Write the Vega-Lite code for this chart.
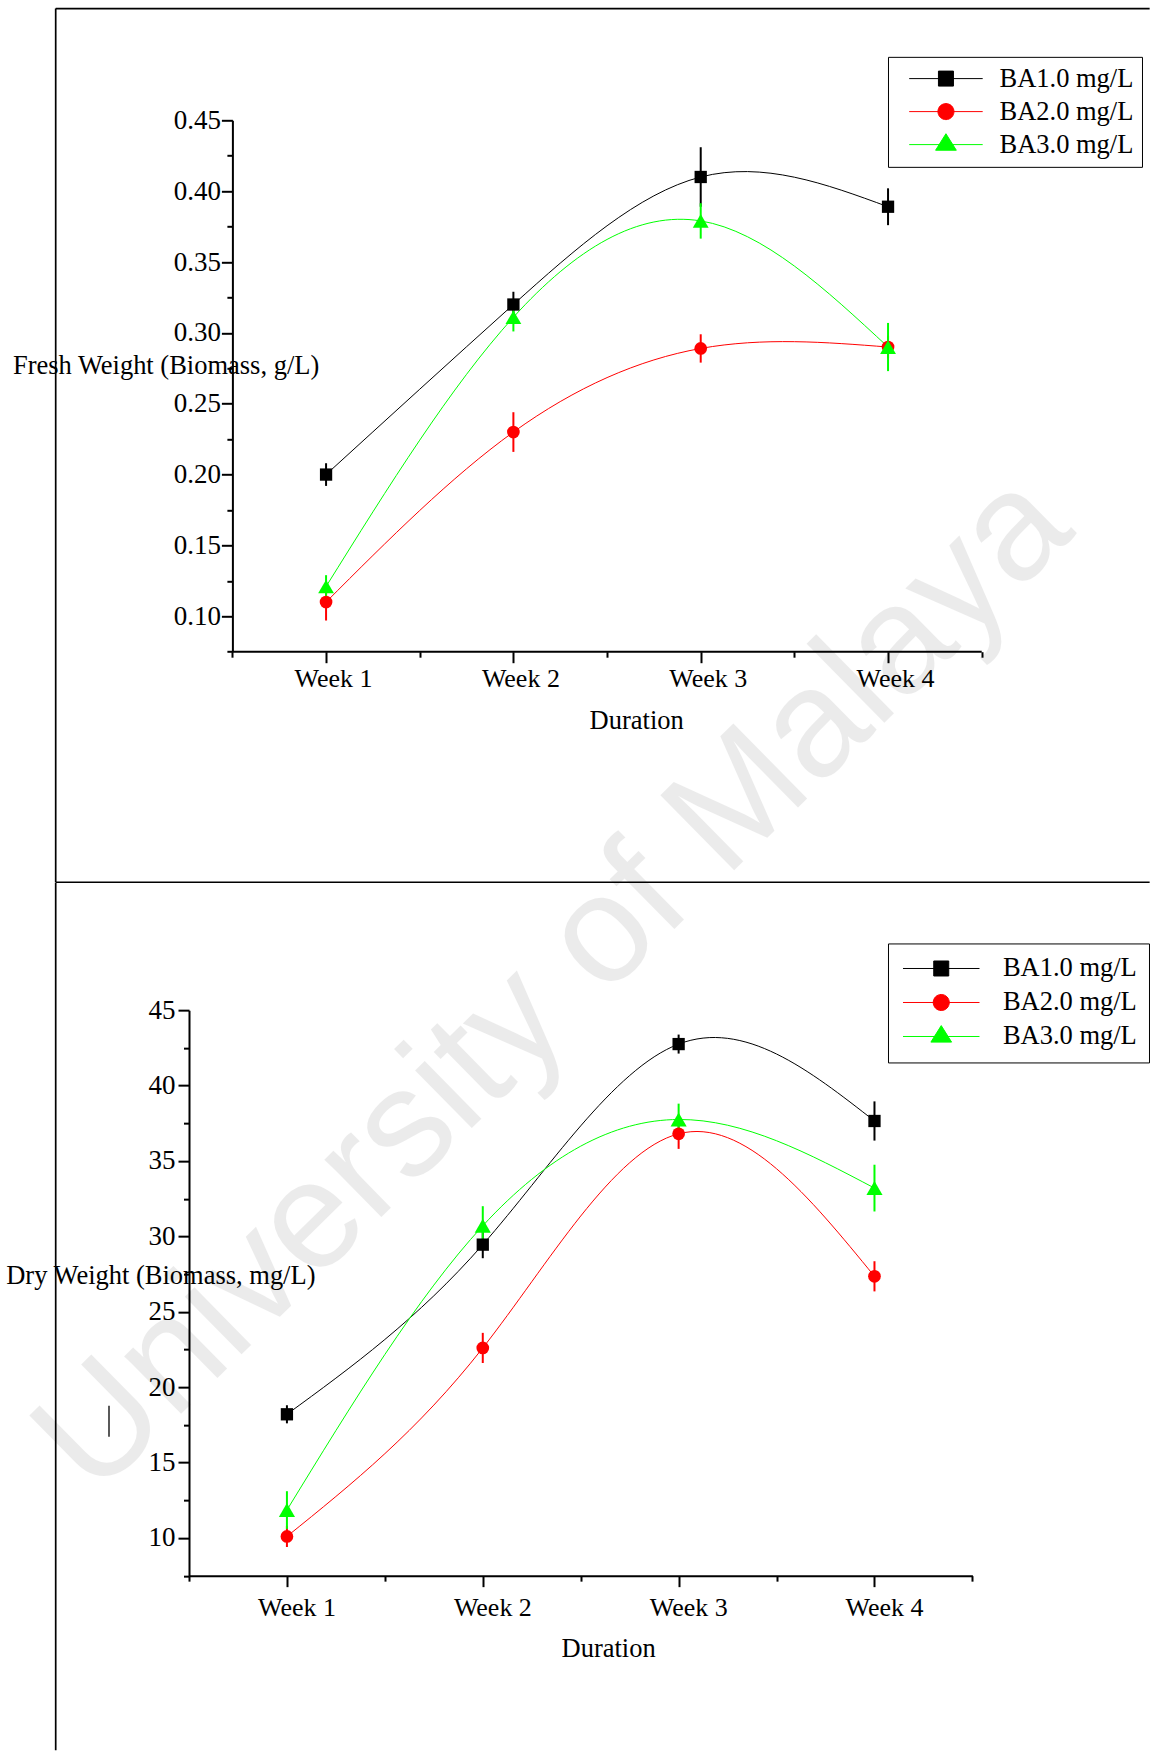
{
  "$schema": "https://vega.github.io/schema/vega-lite/v6.json",
  "background": "white",
  "padding": {"left": 5, "top": 7.3, "right": 0, "bottom": 0},
  "config": {
    "font": "Liberation Serif",
    "view": {"stroke": null},
    "axis": {"grid": false, "domainColor": "#000000", "domainWidth": 2, "tickColor": "#000000", "tickWidth": 2, "labelColor": "#000000", "labelFontSize": 26, "labelFont": "Liberation Serif", "titleFont": "Liberation Serif", "titleColor": "#000000", "titleFontSize": 26.5, "titleFontWeight": "normal", "labelOverlap": false, "labelFlush": false, "labelBound": false},
    "axisY": {"labelFontSize": 27}
  },
  "datasets": {
    "fresh": [
      {"series": "BA1.0 mg/L", "wk": 1, "mean": 0.200, "err": 0.008},
      {"series": "BA1.0 mg/L", "wk": 2, "mean": 0.320, "err": 0.009},
      {"series": "BA1.0 mg/L", "wk": 3, "mean": 0.410, "err": 0.021},
      {"series": "BA1.0 mg/L", "wk": 4, "mean": 0.389, "err": 0.013},
      {"series": "BA2.0 mg/L", "wk": 1, "mean": 0.110, "err": 0.013},
      {"series": "BA2.0 mg/L", "wk": 2, "mean": 0.230, "err": 0.014},
      {"series": "BA2.0 mg/L", "wk": 3, "mean": 0.289, "err": 0.010},
      {"series": "BA2.0 mg/L", "wk": 4, "mean": 0.290, "err": 0.008},
      {"series": "BA3.0 mg/L", "wk": 1, "mean": 0.121, "err": 0.008},
      {"series": "BA3.0 mg/L", "wk": 2, "mean": 0.311, "err": 0.010},
      {"series": "BA3.0 mg/L", "wk": 3, "mean": 0.379, "err": 0.0125},
      {"series": "BA3.0 mg/L", "wk": 4, "mean": 0.290, "err": 0.017}
    ],
    "dry": [
      {"series": "BA1.0 mg/L", "wk": 1, "mean": 18.2, "err": 0.6},
      {"series": "BA1.0 mg/L", "wk": 2, "mean": 29.45, "err": 0.9},
      {"series": "BA1.0 mg/L", "wk": 3, "mean": 42.75, "err": 0.63},
      {"series": "BA1.0 mg/L", "wk": 4, "mean": 37.65, "err": 1.3},
      {"series": "BA2.0 mg/L", "wk": 1, "mean": 10.1, "err": 0.7},
      {"series": "BA2.0 mg/L", "wk": 2, "mean": 22.6, "err": 1.0},
      {"series": "BA2.0 mg/L", "wk": 3, "mean": 36.8, "err": 1.0},
      {"series": "BA2.0 mg/L", "wk": 4, "mean": 27.35, "err": 1.0},
      {"series": "BA3.0 mg/L", "wk": 1, "mean": 11.85, "err": 1.25},
      {"series": "BA3.0 mg/L", "wk": 2, "mean": 30.7, "err": 1.3},
      {"series": "BA3.0 mg/L", "wk": 3, "mean": 37.75, "err": 1.05},
      {"series": "BA3.0 mg/L", "wk": 4, "mean": 33.2, "err": 1.55}
    ]
  },
  "spacing": 357.85,
  "bounds": "flush",
  "resolve": {"scale": {"shape": "independent", "fill": "independent", "stroke": "independent"}, "legend": {"shape": "independent", "fill": "independent", "stroke": "independent"}},
  "vconcat": [
    {
      "width": 792.7,
      "height": 531.4,
      "layer": [
        {"data": {"values": [{"d": 0}]}, "mark": {"type": "rule", "strokeWidth": 1.7, "color": "#000000"},
          "encoding": {
            "x": {"datum": -0.44328, "type": "quantitative", "title": "Duration", "scale": {"domain": [0.26832, 4.5], "nice": false, "zero": false}, "axis": {"title": "Duration", "values": [0.5, 1, 1.5, 2, 2.5, 3, 3.5, 4, 4.5], "labelExpr": "datum.value % 1 === 0 ? 'Week ' + datum.value : ''", "domain": false, "tickSize": {"condition": {"test": "datum.value % 1 === 0", "value": 11}, "value": 5.5}, "labelBaseline": "alphabetic", "labelPadding": 24, "labelOffset": 7, "titleX": 447.2, "titleY": 76.85, "titleAlign": "center", "titleBaseline": "alphabetic"}},
            "y": {"datum": 0.52886, "type": "quantitative", "title": "Fresh Weight (Biomass, g/L)", "scale": {"domain": [0.075, 0.45], "nice": false, "zero": false}, "axis": {"title": "Fresh Weight (Biomass, g/L)", "values": [0.075, 0.1, 0.125, 0.15, 0.175, 0.2, 0.225, 0.25, 0.275, 0.3, 0.325, 0.35, 0.375, 0.4, 0.425, 0.45], "labelExpr": "abs(datum.value*20 - round(datum.value*20)) < 0.001 ? format(datum.value, '.2f') : ''", "tickSize": {"condition": {"test": "abs(datum.value*20 - round(datum.value*20)) < 0.001", "value": 11}, "value": 5.5}, "labelPadding": 1, "offset": -43.4, "titleAngle": 0, "titleAlign": "left", "titleBaseline": "alphabetic", "titleX": -220, "titleY": 253.25}},
            "y2": {"datum": -0.0877}}},
        {"data": {"values": [{"d": 0}]}, "mark": {"type": "rule", "strokeWidth": 1.7, "color": "#000000"},
          "encoding": {
            "x": {"datum": -0.44328, "type": "quantitative", "title": "Duration", "scale": {"domain": [0.26832, 4.5], "nice": false, "zero": false}, "axis": {"title": "Duration", "values": [0.5, 1, 1.5, 2, 2.5, 3, 3.5, 4, 4.5], "labelExpr": "datum.value % 1 === 0 ? 'Week ' + datum.value : ''", "domain": false, "tickSize": {"condition": {"test": "datum.value % 1 === 0", "value": 11}, "value": 5.5}, "labelBaseline": "alphabetic", "labelPadding": 24, "labelOffset": 7, "titleX": 447.2, "titleY": 76.85, "titleAlign": "center", "titleBaseline": "alphabetic"}},
            "x2": {"datum": 5.3965},
            "y": {"datum": 0.52886, "type": "quantitative", "title": "Fresh Weight (Biomass, g/L)", "scale": {"domain": [0.075, 0.45], "nice": false, "zero": false}, "axis": {"title": "Fresh Weight (Biomass, g/L)", "values": [0.075, 0.1, 0.125, 0.15, 0.175, 0.2, 0.225, 0.25, 0.275, 0.3, 0.325, 0.35, 0.375, 0.4, 0.425, 0.45], "labelExpr": "abs(datum.value*20 - round(datum.value*20)) < 0.001 ? format(datum.value, '.2f') : ''", "tickSize": {"condition": {"test": "abs(datum.value*20 - round(datum.value*20)) < 0.001", "value": 11}, "value": 5.5}, "labelPadding": 1, "offset": -43.4, "titleAngle": 0, "titleAlign": "left", "titleBaseline": "alphabetic", "titleX": -220, "titleY": 253.25}}}},
        {"data": {"values": [{"d": 0}]}, "mark": {"type": "rule", "strokeWidth": 1.7, "color": "#000000"},
          "encoding": {
            "x": {"datum": -0.44328, "type": "quantitative", "title": "Duration", "scale": {"domain": [0.26832, 4.5], "nice": false, "zero": false}, "axis": {"title": "Duration", "values": [0.5, 1, 1.5, 2, 2.5, 3, 3.5, 4, 4.5], "labelExpr": "datum.value % 1 === 0 ? 'Week ' + datum.value : ''", "domain": false, "tickSize": {"condition": {"test": "datum.value % 1 === 0", "value": 11}, "value": 5.5}, "labelBaseline": "alphabetic", "labelPadding": 24, "labelOffset": 7, "titleX": 447.2, "titleY": 76.85, "titleAlign": "center", "titleBaseline": "alphabetic"}},
            "x2": {"datum": 5.3965},
            "y": {"datum": -0.0877, "type": "quantitative", "title": "Fresh Weight (Biomass, g/L)", "scale": {"domain": [0.075, 0.45], "nice": false, "zero": false}, "axis": {"title": "Fresh Weight (Biomass, g/L)", "values": [0.075, 0.1, 0.125, 0.15, 0.175, 0.2, 0.225, 0.25, 0.275, 0.3, 0.325, 0.35, 0.375, 0.4, 0.425, 0.45], "labelExpr": "abs(datum.value*20 - round(datum.value*20)) < 0.001 ? format(datum.value, '.2f') : ''", "tickSize": {"condition": {"test": "abs(datum.value*20 - round(datum.value*20)) < 0.001", "value": 11}, "value": 5.5}, "labelPadding": 1, "offset": -43.4, "titleAngle": 0, "titleAlign": "left", "titleBaseline": "alphabetic", "titleX": -220, "titleY": 253.25}}}},
        {"data": {"values": [{"d": 0}]}, "mark": {"type": "rule", "strokeWidth": 2, "color": "#000000"},
          "encoding": {
            "x": {"datum": 0.5, "type": "quantitative", "title": "Duration", "scale": {"domain": [0.26832, 4.5], "nice": false, "zero": false}, "axis": {"title": "Duration", "values": [0.5, 1, 1.5, 2, 2.5, 3, 3.5, 4, 4.5], "labelExpr": "datum.value % 1 === 0 ? 'Week ' + datum.value : ''", "domain": false, "tickSize": {"condition": {"test": "datum.value % 1 === 0", "value": 11}, "value": 5.5}, "labelBaseline": "alphabetic", "labelPadding": 24, "labelOffset": 7, "titleX": 447.2, "titleY": 76.85, "titleAlign": "center", "titleBaseline": "alphabetic"}},
            "x2": {"datum": 4.5},
            "y": {"datum": 0.075, "type": "quantitative", "title": "Fresh Weight (Biomass, g/L)", "scale": {"domain": [0.075, 0.45], "nice": false, "zero": false}, "axis": {"title": "Fresh Weight (Biomass, g/L)", "values": [0.075, 0.1, 0.125, 0.15, 0.175, 0.2, 0.225, 0.25, 0.275, 0.3, 0.325, 0.35, 0.375, 0.4, 0.425, 0.45], "labelExpr": "abs(datum.value*20 - round(datum.value*20)) < 0.001 ? format(datum.value, '.2f') : ''", "tickSize": {"condition": {"test": "abs(datum.value*20 - round(datum.value*20)) < 0.001", "value": 11}, "value": 5.5}, "labelPadding": 1, "offset": -43.4, "titleAngle": 0, "titleAlign": "left", "titleBaseline": "alphabetic", "titleX": -220, "titleY": 253.25}}}},
        {
          "data": {"name": "fresh"},
          "encoding": {
            "x": {"field": "wk", "type": "quantitative", "title": "Duration", "scale": {"domain": [0.26832, 4.5], "nice": false, "zero": false}, "axis": {"title": "Duration", "values": [0.5, 1, 1.5, 2, 2.5, 3, 3.5, 4, 4.5], "labelExpr": "datum.value % 1 === 0 ? 'Week ' + datum.value : ''", "domain": false, "tickSize": {"condition": {"test": "datum.value % 1 === 0", "value": 11}, "value": 5.5}, "labelBaseline": "alphabetic", "labelPadding": 24, "labelOffset": 7, "titleX": 447.2, "titleY": 76.85, "titleAlign": "center", "titleBaseline": "alphabetic"}},
            "y": {"field": "mean", "type": "quantitative", "title": "Fresh Weight (Biomass, g/L)", "scale": {"domain": [0.075, 0.45], "nice": false, "zero": false}, "axis": {"title": "Fresh Weight (Biomass, g/L)", "values": [0.075, 0.1, 0.125, 0.15, 0.175, 0.2, 0.225, 0.25, 0.275, 0.3, 0.325, 0.35, 0.375, 0.4, 0.425, 0.45], "labelExpr": "abs(datum.value*20 - round(datum.value*20)) < 0.001 ? format(datum.value, '.2f') : ''", "tickSize": {"condition": {"test": "abs(datum.value*20 - round(datum.value*20)) < 0.001", "value": 11}, "value": 5.5}, "labelPadding": 1, "offset": -43.4, "titleAngle": 0, "titleAlign": "left", "titleBaseline": "alphabetic", "titleX": -220, "titleY": 253.25}}
          },
          "layer": [
            {"mark": {"type": "line", "interpolate": "natural", "strokeWidth": 1},
              "encoding": {"color": {"field": "series", "type": "nominal", "scale": {"range": ["#000000", "#ff0000", "#00ff00"]}, "legend": null}}},
            {"mark": {"type": "errorbar", "thickness": 2},
              "encoding": {"yError": {"field": "err"}, "color": {"field": "series", "type": "nominal", "legend": null}}},
            {"transform": [{"filter": "datum.series === 'BA1.0 mg/L'"}],
              "mark": {"type": "point", "shape": "square", "filled": true, "color": "#000000", "size": 151, "opacity": 1}},
            {"transform": [{"filter": "datum.series === 'BA2.0 mg/L'"}],
              "mark": {"type": "point", "shape": "circle", "filled": true, "color": "#ff0000", "size": 161, "opacity": 1}},
            {"transform": [{"filter": "datum.series === 'BA3.0 mg/L'"}],
              "mark": {"type": "point", "shape": "triangle-up", "filled": true, "color": "#00ff00", "size": 250, "opacity": 1}},
            {"mark": {"type": "point", "filled": true, "opacity": 0, "strokeWidth": 1},
              "encoding": {
                "shape": {"field": "series", "type": "nominal",
                  "scale": {"domain": ["BA1.0 mg/L", "BA2.0 mg/L", "BA3.0 mg/L"], "range": ["M-4.9,0H4.9M-1,-1H1V1H-1Z", "M-4.9,0H4.9M-1.07,0A1.07,1.07,0,1,1,1.07,0A1.07,1.07,0,1,1,-1.07,0Z", "M-4.9,0H4.9M0,-1.45L1.38,0.75L-1.38,0.75Z"]},
                  "legend": {"title": null, "orient": "none", "legendX": 699, "legendY": -63.45, "padding": 8.5, "strokeColor": "#000000", "fillColor": "#ffffff", "symbolSize": 225, "symbolStrokeWidth": 1, "symbolOffset": 36.2, "labelOffset": 40.3, "labelFont": "Liberation Serif", "labelFontSize": 26.5, "labelColor": "#000000", "labelLimit": 400, "rowPadding": 6, "symbolOpacity": 1, "symbolFillColor": "#000000", "symbolStrokeColor": "#000000"}},
                "fill": {"field": "series", "type": "nominal", "scale": {"domain": ["BA1.0 mg/L", "BA2.0 mg/L", "BA3.0 mg/L"], "range": ["#000000", "#ff0000", "#00ff00"]},
                  "legend": {"title": null, "orient": "none", "legendX": 699, "legendY": -63.45, "padding": 8.5, "strokeColor": "#000000", "fillColor": "#ffffff", "symbolSize": 225, "symbolStrokeWidth": 1, "symbolOffset": 36.2, "labelOffset": 40.3, "labelFont": "Liberation Serif", "labelFontSize": 26.5, "labelColor": "#000000", "labelLimit": 400, "rowPadding": 6, "symbolOpacity": 1, "symbolFillColor": "#000000", "symbolStrokeColor": "#000000"}},
                "stroke": {"field": "series", "type": "nominal", "scale": {"domain": ["BA1.0 mg/L", "BA2.0 mg/L", "BA3.0 mg/L"], "range": ["#000000", "#ff0000", "#00ff00"]},
                  "legend": {"title": null, "orient": "none", "legendX": 699, "legendY": -63.45, "padding": 8.5, "strokeColor": "#000000", "fillColor": "#ffffff", "symbolSize": 225, "symbolStrokeWidth": 1, "symbolOffset": 36.2, "labelOffset": 40.3, "labelFont": "Liberation Serif", "labelFontSize": 26.5, "labelColor": "#000000", "labelLimit": 400, "rowPadding": 6, "symbolOpacity": 1, "symbolFillColor": "#000000", "symbolStrokeColor": "#000000"}}
              }}
          ]
        }
      ]
    },
    {
      "width": 783.4,
      "height": 565.5,
      "layer": [
        {"data": {"values": [{"d": 0}]}, "mark": {"type": "text", "text": "University of Malaya", "font": "Liberation Sans", "fontSize": 153, "angle": -44.5, "align": "center", "baseline": "middle", "color": "#000000", "opacity": 0.075},
          "encoding": {
            "x": {"datum": 2.3621, "type": "quantitative", "title": "Duration", "scale": {"domain": [0.5, 4.5], "nice": false, "zero": false}, "axis": {"title": "Duration", "values": [0.5, 1, 1.5, 2, 2.5, 3, 3.5, 4, 4.5], "labelExpr": "datum.value % 1 === 0 ? 'Week ' + datum.value : ''", "tickSize": {"condition": {"test": "datum.value % 1 === 0", "value": 11}, "value": 5.5}, "labelBaseline": "alphabetic", "labelPadding": 29, "labelOffset": 9.6, "titleX": 419.1, "titleY": 81.2, "titleAlign": "center", "titleBaseline": "alphabetic"}},
            "y": {"datum": 46.79, "type": "quantitative", "title": "Dry Weight (Biomass, mg/L)", "scale": {"domain": [7.5, 45], "nice": false, "zero": false}, "axis": {"title": "Dry Weight (Biomass, mg/L)", "values": [7.5, 10, 12.5, 15, 17.5, 20, 22.5, 25, 27.5, 30, 32.5, 35, 37.5, 40, 42.5, 45], "labelExpr": "datum.value % 5 === 0 ? '' + datum.value : ''", "tickSize": {"condition": {"test": "datum.value % 5 === 0", "value": 11}, "value": 5.5}, "labelPadding": 3, "titleAngle": 0, "titleAlign": "left", "titleBaseline": "alphabetic", "titleX": -183.3, "titleY": 273.3}}}},
        {"data": {"values": [{"d": 0}]}, "mark": {"type": "rule", "strokeWidth": 1.7, "color": "#000000"},
          "encoding": {
            "x": {"datum": -0.18062, "type": "quantitative", "title": "Duration", "scale": {"domain": [0.5, 4.5], "nice": false, "zero": false}, "axis": {"title": "Duration", "values": [0.5, 1, 1.5, 2, 2.5, 3, 3.5, 4, 4.5], "labelExpr": "datum.value % 1 === 0 ? 'Week ' + datum.value : ''", "tickSize": {"condition": {"test": "datum.value % 1 === 0", "value": 11}, "value": 5.5}, "labelBaseline": "alphabetic", "labelPadding": 29, "labelOffset": 9.6, "titleX": 419.1, "titleY": 81.2, "titleAlign": "center", "titleBaseline": "alphabetic"}},
            "y": {"datum": 53.4416, "type": "quantitative", "title": "Dry Weight (Biomass, mg/L)", "scale": {"domain": [7.5, 45], "nice": false, "zero": false}, "axis": {"title": "Dry Weight (Biomass, mg/L)", "values": [7.5, 10, 12.5, 15, 17.5, 20, 22.5, 25, 27.5, 30, 32.5, 35, 37.5, 40, 42.5, 45], "labelExpr": "datum.value % 5 === 0 ? '' + datum.value : ''", "tickSize": {"condition": {"test": "datum.value % 5 === 0", "value": 11}, "value": 5.5}, "labelPadding": 3, "titleAngle": 0, "titleAlign": "left", "titleBaseline": "alphabetic", "titleX": -183.3, "titleY": 273.3}},
            "y2": {"datum": -4.072}}},
        {"data": {"values": [{"d": 0}]}, "mark": {"type": "rule", "strokeWidth": 1.3, "color": "#000000"},
          "encoding": {
            "x": {"datum": 0.09152, "type": "quantitative", "title": "Duration", "scale": {"domain": [0.5, 4.5], "nice": false, "zero": false}, "axis": {"title": "Duration", "values": [0.5, 1, 1.5, 2, 2.5, 3, 3.5, 4, 4.5], "labelExpr": "datum.value % 1 === 0 ? 'Week ' + datum.value : ''", "tickSize": {"condition": {"test": "datum.value % 1 === 0", "value": 11}, "value": 5.5}, "labelBaseline": "alphabetic", "labelPadding": 29, "labelOffset": 9.6, "titleX": 419.1, "titleY": 81.2, "titleAlign": "center", "titleBaseline": "alphabetic"}},
            "y": {"datum": 18.76, "type": "quantitative", "title": "Dry Weight (Biomass, mg/L)", "scale": {"domain": [7.5, 45], "nice": false, "zero": false}, "axis": {"title": "Dry Weight (Biomass, mg/L)", "values": [7.5, 10, 12.5, 15, 17.5, 20, 22.5, 25, 27.5, 30, 32.5, 35, 37.5, 40, 42.5, 45], "labelExpr": "datum.value % 5 === 0 ? '' + datum.value : ''", "tickSize": {"condition": {"test": "datum.value % 5 === 0", "value": 11}, "value": 5.5}, "labelPadding": 3, "titleAngle": 0, "titleAlign": "left", "titleBaseline": "alphabetic", "titleX": -183.3, "titleY": 273.3}},
            "y2": {"datum": 16.704}}},
        {
          "data": {"name": "dry"},
          "encoding": {
            "x": {"field": "wk", "type": "quantitative", "title": "Duration", "scale": {"domain": [0.5, 4.5], "nice": false, "zero": false}, "axis": {"title": "Duration", "values": [0.5, 1, 1.5, 2, 2.5, 3, 3.5, 4, 4.5], "labelExpr": "datum.value % 1 === 0 ? 'Week ' + datum.value : ''", "tickSize": {"condition": {"test": "datum.value % 1 === 0", "value": 11}, "value": 5.5}, "labelBaseline": "alphabetic", "labelPadding": 29, "labelOffset": 9.6, "titleX": 419.1, "titleY": 81.2, "titleAlign": "center", "titleBaseline": "alphabetic"}},
            "y": {"field": "mean", "type": "quantitative", "title": "Dry Weight (Biomass, mg/L)", "scale": {"domain": [7.5, 45], "nice": false, "zero": false}, "axis": {"title": "Dry Weight (Biomass, mg/L)", "values": [7.5, 10, 12.5, 15, 17.5, 20, 22.5, 25, 27.5, 30, 32.5, 35, 37.5, 40, 42.5, 45], "labelExpr": "datum.value % 5 === 0 ? '' + datum.value : ''", "tickSize": {"condition": {"test": "datum.value % 5 === 0", "value": 11}, "value": 5.5}, "labelPadding": 3, "titleAngle": 0, "titleAlign": "left", "titleBaseline": "alphabetic", "titleX": -183.3, "titleY": 273.3}}
          },
          "layer": [
            {"mark": {"type": "line", "interpolate": "natural", "strokeWidth": 1},
              "encoding": {"color": {"field": "series", "type": "nominal", "scale": {"range": ["#000000", "#ff0000", "#00ff00"]}, "legend": null}}},
            {"mark": {"type": "errorbar", "thickness": 2},
              "encoding": {"yError": {"field": "err"}, "color": {"field": "series", "type": "nominal", "legend": null}}},
            {"transform": [{"filter": "datum.series === 'BA1.0 mg/L'"}],
              "mark": {"type": "point", "shape": "square", "filled": true, "color": "#000000", "size": 151, "opacity": 1}},
            {"transform": [{"filter": "datum.series === 'BA2.0 mg/L'"}],
              "mark": {"type": "point", "shape": "circle", "filled": true, "color": "#ff0000", "size": 161, "opacity": 1}},
            {"transform": [{"filter": "datum.series === 'BA3.0 mg/L'"}],
              "mark": {"type": "point", "shape": "triangle-up", "filled": true, "color": "#00ff00", "size": 260, "opacity": 1}},
            {"mark": {"type": "point", "filled": true, "opacity": 0, "strokeWidth": 1},
              "encoding": {
                "shape": {"field": "series", "type": "nominal",
                  "scale": {"domain": ["BA1.0 mg/L", "BA2.0 mg/L", "BA3.0 mg/L"], "range": ["M-5.1,0H5.1M-1,-1H1V1H-1Z", "M-5.1,0H5.1M-1.07,0A1.07,1.07,0,1,1,1.07,0A1.07,1.07,0,1,1,-1.07,0Z", "M-5.1,0H5.1M0,-1.45L1.38,0.75L-1.38,0.75Z"]},
                  "legend": {"title": null, "orient": "none", "legendX": 699, "legendY": -66.7, "padding": 11.8, "strokeColor": "#000000", "fillColor": "#ffffff", "symbolSize": 225, "symbolStrokeWidth": 1, "symbolOffset": 28.2, "labelOffset": 48.4, "labelFont": "Liberation Serif", "labelFontSize": 26.5, "labelColor": "#000000", "labelLimit": 400, "rowPadding": 7, "symbolOpacity": 1, "symbolFillColor": "#000000", "symbolStrokeColor": "#000000"}},
                "fill": {"field": "series", "type": "nominal", "scale": {"domain": ["BA1.0 mg/L", "BA2.0 mg/L", "BA3.0 mg/L"], "range": ["#000000", "#ff0000", "#00ff00"]},
                  "legend": {"title": null, "orient": "none", "legendX": 699, "legendY": -66.7, "padding": 11.8, "strokeColor": "#000000", "fillColor": "#ffffff", "symbolSize": 225, "symbolStrokeWidth": 1, "symbolOffset": 28.2, "labelOffset": 48.4, "labelFont": "Liberation Serif", "labelFontSize": 26.5, "labelColor": "#000000", "labelLimit": 400, "rowPadding": 7, "symbolOpacity": 1, "symbolFillColor": "#000000", "symbolStrokeColor": "#000000"}},
                "stroke": {"field": "series", "type": "nominal", "scale": {"domain": ["BA1.0 mg/L", "BA2.0 mg/L", "BA3.0 mg/L"], "range": ["#000000", "#ff0000", "#00ff00"]},
                  "legend": {"title": null, "orient": "none", "legendX": 699, "legendY": -66.7, "padding": 11.8, "strokeColor": "#000000", "fillColor": "#ffffff", "symbolSize": 225, "symbolStrokeWidth": 1, "symbolOffset": 28.2, "labelOffset": 48.4, "labelFont": "Liberation Serif", "labelFontSize": 26.5, "labelColor": "#000000", "labelLimit": 400, "rowPadding": 7, "symbolOpacity": 1, "symbolFillColor": "#000000", "symbolStrokeColor": "#000000"}}
              }}
          ]
        }
      ]
    }
  ]
}
